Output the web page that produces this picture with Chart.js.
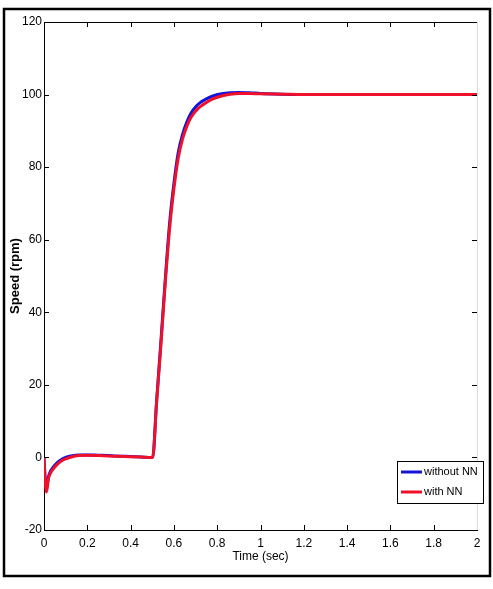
<!DOCTYPE html>
<html>
<head>
<meta charset="utf-8">
<script src="https://cdn.jsdelivr.net/npm/chart.js@4.4.1/dist/chart.umd.min.js"></script>
<style>
  html, body { margin: 0; padding: 0; background: #fff; }
  #wrap { width: 493px; height: 589px; position: relative; }
</style>
</head>
<body>
<div id="wrap"><canvas id="c"></canvas></div>
<script>
// ── data ────────────────────────────────────────────────────────
const timeSec = [0, 0.005, 0.012, 0.02, 0.03, 0.045, 0.06, 0.08, 0.1, 0.13, 0.16, 0.2,
  0.25, 0.3, 0.35, 0.4, 0.45, 0.5, 0.502, 0.52, 0.54, 0.56, 0.58, 0.6, 0.62, 0.64,
  0.66, 0.68, 0.7, 0.72, 0.75, 0.78, 0.82, 0.86, 0.9, 0.95, 1.0, 1.1, 1.2, 1.4, 1.6, 1.8, 2.0];

const speedWithoutNN = [0, -5.5, -8.5, -5.5, -3.8, -2.5, -1.5, -0.6, 0, 0.5, 0.7, 0.7,
  0.6, 0.5, 0.35, 0.25, 0.1, 0, 0, 15.5, 32, 49, 64.5, 75.5, 84, 89,
  92.5, 95, 96.6, 97.7, 98.8, 99.6, 100.2, 100.5, 100.6, 100.5, 100.3, 100.1, 100, 100, 100, 100, 100];

const speedWithNN = [0, -6, -9.5, -6, -4.3, -3, -2, -1, -0.4, 0.2, 0.5, 0.6,
  0.5, 0.4, 0.3, 0.2, 0.1, 0, 0, 15, 31, 48, 63, 74, 82.5, 87.8,
  91.3, 93.8, 95.4, 96.6, 97.8, 98.8, 99.6, 100.1, 100.3, 100.3, 100.2, 100.1, 100, 100, 100, 100, 100];

const seriesLabels = ['without NN', 'with NN'];
const seriesColors = ['#1414d8', '#f0102a'];

const FONT = "'Liberation Sans', Arial, sans-serif";

const pts = s => timeSec.map((t, i) => ({ x: t, y: s[i] }));

// inward ticks on all four sides + top/right box + outer frame + legend
const decor = {
  id: 'decor',
  afterDraw(chart) {
    const { ctx, chartArea: a, scales } = chart;
    ctx.save();
    ctx.strokeStyle = '#000';
    ctx.lineWidth = 1;
    ctx.beginPath();
    ctx.moveTo(a.left, a.top + 0.5); ctx.lineTo(a.right, a.top + 0.5);
    scales.x.ticks.forEach(t => {
      const px = Math.round(scales.x.getPixelForValue(t.value)) + 0.5;
      ctx.moveTo(px, a.bottom); ctx.lineTo(px, a.bottom - 5);
      ctx.moveTo(px, a.top); ctx.lineTo(px, a.top + 5);
    });
    scales.y.ticks.forEach(t => {
      const py = Math.round(scales.y.getPixelForValue(t.value)) + 0.5;
      ctx.moveTo(a.left, py); ctx.lineTo(a.left + 5, py);
      ctx.moveTo(a.right, py); ctx.lineTo(a.right - 5, py);
    });
    ctx.stroke();

    ctx.strokeStyle = '#ddd';
    ctx.beginPath();
    ctx.moveTo(a.right + 0.5, a.top); ctx.lineTo(a.right + 0.5, a.bottom);
    ctx.stroke();

    // legend box
    const lx = 397, ly = 461, lw = 86, lh = 42;
    ctx.fillStyle = '#fff';
    ctx.fillRect(lx, ly, lw, lh);
    ctx.strokeStyle = '#000';
    ctx.lineWidth = 1;
    ctx.strokeRect(lx + 0.5, ly + 0.5, lw, lh);
    ctx.font = '11px ' + FONT;
    ctx.textBaseline = 'middle';
    seriesLabels.forEach((lab, i) => {
      const y = ly + 11 + i * 20;
      ctx.strokeStyle = seriesColors[i];
      ctx.lineWidth = 3;
      ctx.beginPath();
      ctx.moveTo(lx + 4, y); ctx.lineTo(lx + 25, y);
      ctx.stroke();
      ctx.fillStyle = '#000';
      ctx.fillText(lab, lx + 27, y);
    });

    // outer frame
    ctx.strokeStyle = '#000';
    ctx.lineWidth = 2.5;
    ctx.strokeRect(4, 9, 486, 567);
    ctx.restore();
  }
};

new Chart(document.getElementById('c'), {
  type: 'line',
  data: {
    datasets: [
      {
        label: seriesLabels[0], data: pts(speedWithoutNN),
        borderColor: seriesColors[0], borderWidth: 3, pointRadius: 0,
        cubicInterpolationMode: 'monotone', order: 2,
      },
      {
        label: seriesLabels[1], data: pts(speedWithNN),
        borderColor: seriesColors[1], borderWidth: 3, pointRadius: 0,
        cubicInterpolationMode: 'monotone', order: 1,
      },
    ],
  },
  options: {
    responsive: true,
    maintainAspectRatio: false,
    animation: false,
    devicePixelRatio: 1,
    layout: { padding: { left: 8, top: 22, right: 16, bottom: 25 } },
    scales: {
      x: {
        type: 'linear', min: 0, max: 2,
        grid: { display: false, drawTicks: false },
        border: { display: true, color: '#000', width: 1 },
        ticks: {
          stepSize: 0.2, padding: 6, color: '#000', maxRotation: 0,
          font: { family: FONT, size: 12 },
          callback: v => String(+v.toFixed(1)),
        },
        title: {
          display: true, text: 'Time (sec)', color: '#000', padding: 0,
          font: { family: FONT, size: 12 },
        },
        afterFit: s => { s.height = 34; },
      },
      y: {
        min: -20, max: 120,
        grid: { display: false, drawTicks: false },
        border: { display: true, color: '#000', width: 1 },
        ticks: {
          stepSize: 20, padding: 2, color: '#000',
          font: { family: FONT, size: 12 },
        },
        title: {
          display: true, text: 'Speed (rpm)', color: '#000', padding: 0,
          font: { family: FONT, size: 13, weight: 'bold' },
        },
        afterFit: s => { s.width = 36; },
      },
    },
    plugins: {
      legend: { display: false },
      tooltip: { enabled: false },
    },
  },
  plugins: [decor],
});
</script>
</body>
</html>
